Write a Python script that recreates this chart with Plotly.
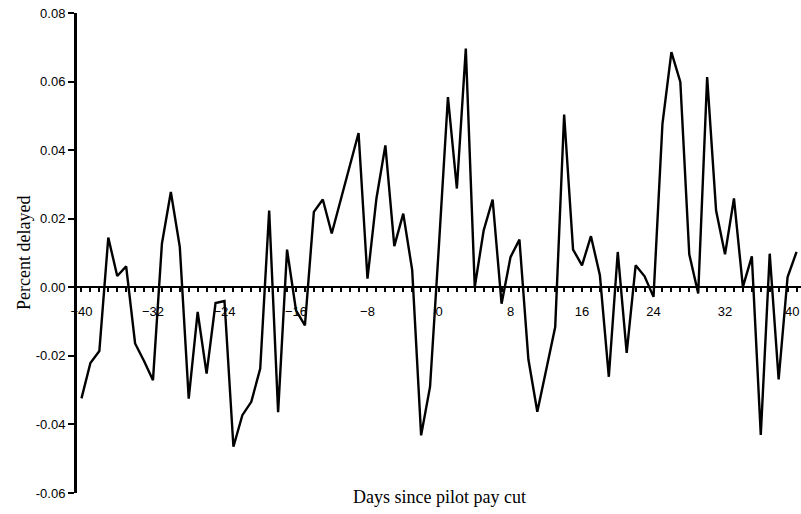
import plotly.graph_objects as go

# Daily change in share of delayed flights around the pilot pay cut
days = list(range(-40, 41))
percent_delayed = [
    -0.0324, -0.0221, -0.0186, 0.0145, 0.0033, 0.0061, -0.0164, -0.0215,
    -0.0271, 0.0127, 0.0278, 0.0118, -0.0325, -0.0072, -0.0252, -0.0046,
    -0.0040, -0.0465, -0.0373, -0.0334, -0.0237, 0.0224, -0.0364, 0.0110,
    -0.0067, -0.0111, 0.0220, 0.0256, 0.0157, 0.0253, 0.0350, 0.0450,
    0.0025, 0.0259, 0.0414, 0.0120, 0.0215, 0.0050, -0.0432, -0.0290,
    0.0125, 0.0555, 0.0288, 0.0696, 0.0001, 0.0166, 0.0256, -0.0048,
    0.0088, 0.0139, -0.0210, -0.0363, -0.0240, -0.0116, 0.0504, 0.0110,
    0.0064, 0.0149, 0.0035, -0.0261, 0.0103, -0.0191, 0.0064, 0.0032,
    -0.0028, 0.0477, 0.0686, 0.0599, 0.0096, -0.0018, 0.0613, 0.0224,
    0.0096, 0.0259, 0.0001, 0.0090, -0.0431, 0.0098, -0.0269, 0.0030,
    0.0103,
]
y_ticks = [-0.06, -0.04, -0.02, 0.00, 0.02, 0.04, 0.06, 0.08]
x_ticks = [-40, -32, -24, -16, -8, 0, 8, 16, 24, 32, 40]

y_min, y_max = -0.06, 0.08
zero_pos = (0 - y_min) / (y_max - y_min)

sans = "Liberation Sans, Arial, sans-serif"
serif = "Liberation Serif, Times New Roman, serif"

fig = go.Figure()
fig.add_trace(go.Scatter(
    x=days, y=percent_delayed, mode="lines",
    line=dict(color="black", width=2.4),
    hoverinfo="skip", showlegend=False,
))

# the last day label sits at the right edge; keep it inside the page
edge_label = dict(
    text=str(x_ticks[-1]), xref="paper", yref="paper",
    x=1.0, y=(493 - 311) / 480, xanchor="right", yanchor="middle",
    showarrow=False, font=dict(family=sans, size=13, color="black"),
)

fig.update_layout(
    width=801, height=514,
    margin=dict(l=77, r=0, t=13, b=21, autoexpand=False),
    paper_bgcolor="white", plot_bgcolor="white",
    xaxis=dict(
        range=[-40.5, 40.5],
        anchor="free", position=zero_pos,
        automargin=False,
        showline=True, linecolor="black", linewidth=2,
        showgrid=False, zeroline=False,
        tickmode="array", tickvals=x_ticks[:-1],
        ticks="outside", ticklen=4, tickwidth=2, tickcolor="black",
        minor=dict(tickmode="linear", tick0=0, dtick=1, ticks="outside",
                   ticklen=4, tickwidth=2, tickcolor="black", showgrid=False),
        tickfont=dict(family=sans, size=13, color="black"),
        ticklabelstandoff=8,
        ticklabeloverflow="allow",
    ),
    yaxis=dict(
        range=[y_min, y_max],
        automargin=False,
        showline=True, linecolor="black", linewidth=3,
        showgrid=False, zeroline=False,
        tickmode="array", tickvals=y_ticks,
        ticktext=[f"{v:.2f}" for v in y_ticks],
        ticks="outside", ticklen=6, tickwidth=2, tickcolor="black",
        tickfont=dict(family=sans, size=13, color="black"),
    ),
    annotations=[
        edge_label,
        dict(text="Days since pilot pay cut", xref="paper", yref="paper",
             x=0.5, y=-4 / 480, xanchor="center", yanchor="middle",
             showarrow=False, font=dict(family=serif, size=18, color="black")),
        dict(text="Percent delayed", xref="paper", yref="paper",
             x=-(77 - 24) / 724, y=0.5, xanchor="center", yanchor="middle",
             textangle=-90, showarrow=False,
             font=dict(family=serif, size=18, color="black")),
    ],
)

fig.write_html("out.html", config={"displayModeBar": False})
